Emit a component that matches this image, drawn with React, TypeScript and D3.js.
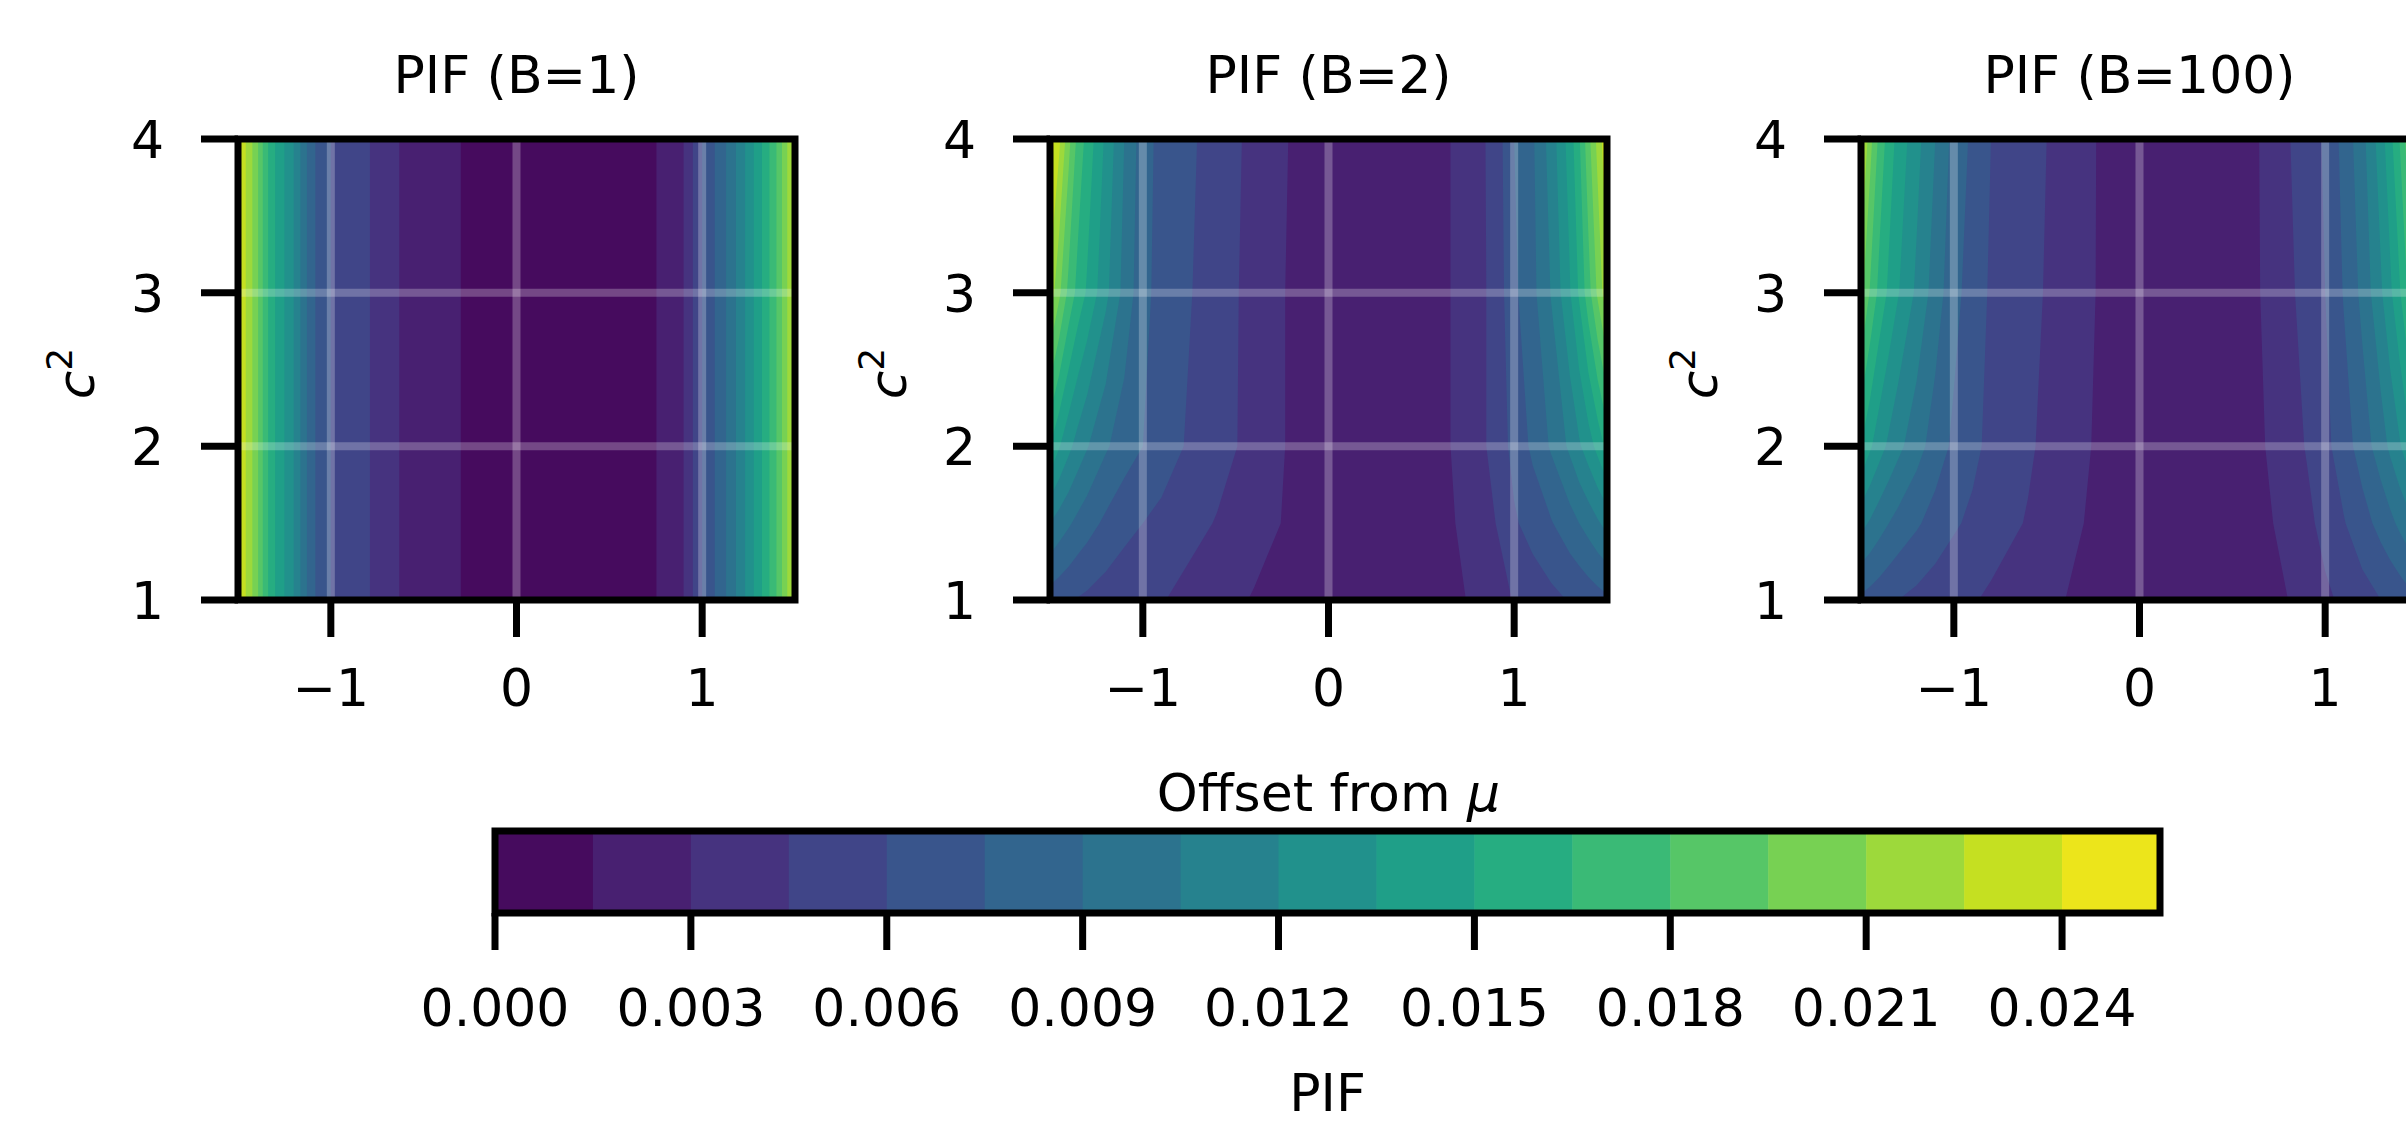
import React from "react";
import * as d3 from "d3";

// contour levels used by contourf (17 bands)
const levels = [0, 0.0015, 0.003, 0.0045, 0.006, 0.0075, 0.009, 0.0105, 0.012, 0.0135, 0.015, 0.0165, 0.018, 0.0195, 0.021, 0.0225, 0.024, 0.0255];
const cbTicks = [0, 0.003, 0.006, 0.009, 0.012, 0.015, 0.018, 0.021, 0.024];
const xTicks = [-1, 0, 1];
const yTicks = [1, 2, 3, 4];
const gridY = [2, 3];

const offsets = [-1.5, -1.45, -1.4, -1.35, -1.3, -1.2, -1.1, -1.0, -0.9, -0.8, -0.6, -0.4, -0.2, 0, 0.2, 0.4, 0.6, 0.8, 0.9, 1.0, 1.1, 1.2, 1.3, 1.35, 1.4, 1.45, 1.5];
const c2Rows = [1, 1.5, 2, 3, 4];

// B=1: no dependence on c^2
const pifB1 = [0.0240, 0.0222, 0.0200, 0.0170, 0.0150, 0.0120, 0.0078, 0.0060, 0.0053, 0.0046, 0.0027, 0.0018, 0.0012, 0.0009, 0.0008, 0.0009, 0.0010, 0.00165, 0.0030, 0.0060, 0.0082, 0.0110, 0.0142, 0.0160, 0.0180, 0.0205, 0.0235];

// B=2, one row per c^2 in c2Rows
const pifB2 = [
  [0.0068, 0.0065, 0.0062, 0.0059, 0.0057, 0.0053, 0.0049, 0.0047, 0.0046, 0.0042, 0.0035, 0.0029, 0.0023, 0.0019, 0.0018, 0.0019, 0.0023, 0.0033, 0.0038, 0.0046, 0.0051, 0.0056, 0.0061, 0.0063, 0.0066, 0.0069, 0.0072],
  [0.0105, 0.0098, 0.0092, 0.0086, 0.0081, 0.0072, 0.0065, 0.0060, 0.0056, 0.0052, 0.0044, 0.0035, 0.0028, 0.0021, 0.0019, 0.0020, 0.0025, 0.0037, 0.0045, 0.0058, 0.0066, 0.0074, 0.0084, 0.0090, 0.0096, 0.0103, 0.0110],
  [0.0150, 0.0136, 0.0124, 0.0114, 0.0106, 0.0092, 0.0082, 0.0075, 0.0068, 0.0061, 0.0051, 0.0040, 0.0028, 0.0021, 0.0019, 0.0020, 0.0026, 0.0040, 0.0050, 0.0065, 0.0078, 0.0092, 0.0108, 0.0118, 0.0128, 0.0140, 0.0155],
  [0.0220, 0.0198, 0.0176, 0.0160, 0.0148, 0.0124, 0.0100, 0.0080, 0.0069, 0.0064, 0.0052, 0.0040, 0.0028, 0.0021, 0.0019, 0.0020, 0.0026, 0.0040, 0.0050, 0.0072, 0.0086, 0.0106, 0.0134, 0.0152, 0.0174, 0.0198, 0.0222],
  [0.0250, 0.0228, 0.0200, 0.0175, 0.0160, 0.0132, 0.0105, 0.0082, 0.0070, 0.0066, 0.0053, 0.0041, 0.0029, 0.0022, 0.0019, 0.0020, 0.0026, 0.0040, 0.0051, 0.0075, 0.0088, 0.0112, 0.0142, 0.0163, 0.0190, 0.0215, 0.0238],
];

// B=100
const pifB100 = [
  [0.0072, 0.0069, 0.0066, 0.0063, 0.0060, 0.0056, 0.0052, 0.0049, 0.0046, 0.0043, 0.0037, 0.0030, 0.0024, 0.0020, 0.0019, 0.0019, 0.0022, 0.0030, 0.0035, 0.0042, 0.0048, 0.0054, 0.0060, 0.0063, 0.0066, 0.0070, 0.0074],
  [0.0110, 0.0103, 0.0096, 0.0090, 0.0085, 0.0077, 0.0069, 0.0062, 0.0057, 0.0051, 0.0044, 0.0034, 0.0026, 0.0021, 0.0019, 0.0020, 0.0024, 0.0034, 0.0041, 0.0050, 0.0059, 0.0069, 0.0080, 0.0086, 0.0093, 0.0100, 0.0108],
  [0.0150, 0.0137, 0.0126, 0.0117, 0.0109, 0.0096, 0.0083, 0.0072, 0.0064, 0.0056, 0.0047, 0.0037, 0.0027, 0.0022, 0.0020, 0.0021, 0.0025, 0.0038, 0.0046, 0.0056, 0.0068, 0.0082, 0.0098, 0.0108, 0.0118, 0.0130, 0.0143],
  [0.0200, 0.0178, 0.0160, 0.0147, 0.0136, 0.0117, 0.0098, 0.0080, 0.0068, 0.0058, 0.0049, 0.0039, 0.0028, 0.0022, 0.0020, 0.0022, 0.0026, 0.0042, 0.0050, 0.0060, 0.0076, 0.0094, 0.0118, 0.0132, 0.0148, 0.0168, 0.0190],
  [0.0235, 0.0200, 0.0175, 0.0158, 0.0145, 0.0125, 0.0105, 0.0085, 0.0072, 0.0060, 0.0050, 0.0040, 0.0028, 0.0022, 0.0020, 0.0022, 0.0026, 0.0044, 0.0052, 0.0062, 0.0080, 0.0100, 0.0128, 0.0145, 0.0165, 0.0190, 0.0215],
];

const titles = ["PIF (B=1)", "PIF (B=2)", "PIF (B=100)"];

const W = 2406;
const H = 1125;
const FONT = "DejaVu Sans";
const FS = 52;
const panelLefts = [238, 1050, 1861];
const panelTop = 139;
const pw = 557;
const ph = 461;
const tickLen = 37;
const lw = 7;

const bandColor = (k: number) => d3.interpolateViridis((k + 0.5) / (levels.length - 1));

function Panel({ idx }: { idx: number }) {
  const left = panelLefts[idx];
  const x = d3.scaleLinear().domain([-1.5, 1.5]).range([left, left + pw]);
  const y = d3.scaleLinear().domain([1, 4]).range([panelTop + ph, panelTop]);

  let rows: number[][];
  let rowC2: number[];
  if (idx === 0) {
    rows = [pifB1, pifB1];
    rowC2 = [1, 4];
  } else {
    rows = idx === 1 ? pifB2 : pifB100;
    rowC2 = c2Rows;
  }

  const nx = offsets.length;
  const ny = rowC2.length;
  const ix = d3.scaleLinear().domain(d3.range(nx)).range(offsets);
  const iy = d3.scaleLinear().domain(d3.range(ny)).range(rowC2);
  const proj = d3.geoTransform({
    point: function (px: number, py: number) {
      // @ts-ignore
      this.stream.point(x(ix(px - 0.5)), y(iy(py - 0.5)));
    },
  });
  const path = d3.geoPath(proj as any);
  const contours = d3.contours().size([nx, ny]).thresholds(levels.slice(1, -1))(rows.flat());

  const clipId = `clip-${idx}`;
  const cx = left + pw / 2;

  return (
    <g>
      <defs>
        <clipPath id={clipId}>
          <rect x={left} y={panelTop} width={pw} height={ph} />
        </clipPath>
      </defs>
      <g clipPath={`url(#${clipId})`}>
        <rect x={left} y={panelTop} width={pw} height={ph} fill={bandColor(0)} />
        {contours.map((c, i) => (
          <path key={i} d={path(c as any) || ""} fill={bandColor(i + 1)} />
        ))}
        {xTicks.map((t) => (
          <line key={"gx" + t} x1={x(t)} x2={x(t)} y1={panelTop} y2={panelTop + ph} stroke="#fff" strokeOpacity={0.25} strokeWidth={8} />
        ))}
        {gridY.map((t) => (
          <line key={"gy" + t} x1={left} x2={left + pw} y1={y(t)} y2={y(t)} stroke="#fff" strokeOpacity={0.25} strokeWidth={8} />
        ))}
      </g>
      <rect x={left} y={panelTop} width={pw} height={ph} fill="none" stroke="#000" strokeWidth={lw} />
      {yTicks.map((t) => (
        <g key={"yt" + t}>
          <line x1={left - tickLen} x2={left} y1={y(t)} y2={y(t)} stroke="#000" strokeWidth={lw} />
          <text x={left - 74} y={y(t) + 19} textAnchor="end" fontSize={FS} fontFamily={FONT}>{t}</text>
        </g>
      ))}
      {xTicks.map((t) => (
        <g key={"xt" + t}>
          <line x1={x(t)} x2={x(t)} y1={panelTop + ph} y2={panelTop + ph + tickLen} stroke="#000" strokeWidth={lw} />
          <text x={x(t)} y={706} textAnchor="middle" fontSize={FS} fontFamily={FONT}>{t < 0 ? "\u2212" + Math.abs(t) : t}</text>
        </g>
      ))}
      <text x={cx} y={93} textAnchor="middle" fontSize={FS} fontFamily={FONT}>{titles[idx]}</text>
      <text transform={`translate(${left - 144},${panelTop + ph / 2 + 4}) rotate(-90)`} textAnchor="middle" fontSize={FS} fontFamily={FONT}>
        <tspan fontStyle="italic">c</tspan>
        <tspan fontSize={36} dy={-22}>2</tspan>
      </text>
    </g>
  );
}

function Colorbar() {
  const x0 = 495, x1 = 2160, y0 = 831, y1 = 913;
  const cb = d3.scaleLinear().domain([0, 0.0255]).range([x0, x1]);
  const fmt = d3.format(".3f");
  return (
    <g>
      {levels.slice(0, -1).map((l, k) => (
        <rect key={k} x={cb(l)} y={y0} width={cb(levels[k + 1]) - cb(l) + 0.5} height={y1 - y0} fill={bandColor(k)} />
      ))}
      <rect x={x0} y={y0} width={x1 - x0} height={y1 - y0} fill="none" stroke="#000" strokeWidth={lw} />
      {cbTicks.map((t) => (
        <g key={t}>
          <line x1={cb(t)} x2={cb(t)} y1={y1} y2={y1 + tickLen} stroke="#000" strokeWidth={lw} />
          <text x={cb(t)} y={1026} textAnchor="middle" fontSize={FS} fontFamily={FONT}>{fmt(t)}</text>
        </g>
      ))}
      <text x={(x0 + x1) / 2} y={1111} textAnchor="middle" fontSize={FS} fontFamily={FONT}>PIF</text>
    </g>
  );
}

export default function App() {
  return (
    <svg width={W} height={H} style={{ position: "absolute", left: 0, top: 0, display: "block" }}>
      <rect x={0} y={0} width={W} height={H} fill="#fff" />
      {[0, 1, 2].map((i) => (
        <Panel key={i} idx={i} />
      ))}
      <text x={panelLefts[1] + pw / 2} y={811} textAnchor="middle" fontSize={FS} fontFamily={FONT}>
        Offset from <tspan fontStyle="italic">μ</tspan>
      </text>
      <Colorbar />
    </svg>
  );
}
